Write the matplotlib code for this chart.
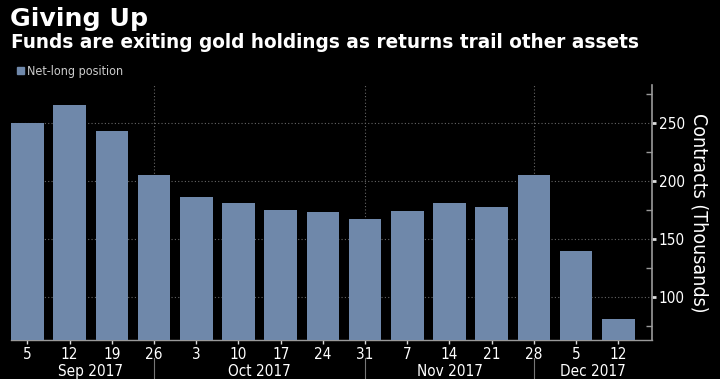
import matplotlib
matplotlib.use("Agg")
import matplotlib.pyplot as plt
from matplotlib.ticker import MultipleLocator

# data
day_labels = ["5", "12", "19", "26", "3", "10", "17", "24", "31",
              "7", "14", "21", "28", "5", "12"]
net_long = [250, 265.5, 243, 205, 186, 181, 175, 173.5, 167,
            174, 181, 178, 205, 140, 81]
month_labels = ["Sep 2017", "Oct 2017", "Nov 2017", "Dec 2017"]
month_centers = [1.5, 5.5, 10.0, 13.4]
month_breaks = [3, 8, 12]

BG = "black"
BAR = "#6f88aa"

plt.rcParams["font.family"] = ["DejaVu Sans"]
plt.rcParams["font.stretch"] = "condensed"

fig = plt.figure(figsize=(7.2, 3.79), dpi=100, facecolor=BG)
ax = fig.add_axes([0.0153, 0.1029, 0.905 - 0.0153, 0.7757 - 0.1029])
ax.set_facecolor(BG)

x = list(range(len(net_long)))
ax.bar(x, net_long, width=0.77, color=BAR, zorder=3)

ax.set_xlim(-0.39, 14.79)
ax.set_ylim(63, 283)

# dotted grid behind the bars
for v in (100, 150, 200, 250):
    ax.axhline(v, color="#666666", lw=0.8, ls=(0, (1, 2)), zorder=1)
for b in month_breaks:
    ax.axvline(b, color="#666666", lw=0.8, ls=(0, (1, 2)), zorder=1)

# spines
for s in ("top", "left"):
    ax.spines[s].set_visible(False)
ax.spines["right"].set_color("#9a9a9a")
ax.spines["bottom"].set_color("#9a9a9a")
ax.spines["right"].set_linewidth(1.2)
ax.spines["bottom"].set_linewidth(1.0)

# y axis on the right
ax.yaxis.tick_right()
ax.yaxis.set_major_locator(MultipleLocator(50))
ax.yaxis.set_minor_locator(MultipleLocator(25))
ax.tick_params(axis="y", which="major", direction="out", length=3, width=2,
               color="#dddddd", labelcolor="white", labelsize=11, pad=2)
ax.tick_params(axis="y", which="minor", direction="in", length=4, width=1,
               color="#9a9a9a")
ax.yaxis.set_label_position("right")
ax.set_ylabel("Contracts (Thousands)", color="white", fontsize=14,
              rotation=-90, labelpad=17)

# x axis: day ticks plus month row
ax.set_xticks(x)
ax.set_xticklabels(day_labels)
ax.tick_params(axis="x", direction="out", length=3, width=1, color="#dddddd",
               labelcolor="white", labelsize=11, pad=2)

for xc, lab in zip(month_centers, month_labels):
    ax.text(xc, -0.125, lab, transform=ax.get_xaxis_transform(), ha="center",
            va="center", color="white", fontsize=11)
for b in month_breaks:
    ax.plot([b, b], [-0.07, -0.153], transform=ax.get_xaxis_transform(),
            color="#777777", lw=0.8, clip_on=False)

# titles and legend
fig.text(10 / 720, 1 - 26 / 379, "Giving Up", color="white", fontsize=18.2,
         fontweight="bold", fontstretch="normal", ha="left", va="baseline")
fig.text(11 / 720, 1 - 48 / 379,
         "Funds are exiting gold holdings as returns trail other assets",
         color="white", fontsize=13.35, fontweight="bold", fontstretch="normal",
         ha="left", va="baseline")
fig.patches.append(plt.Rectangle((17 / 720, 1 - 74 / 379), 7 / 720, 7 / 379,
                                 transform=fig.transFigure, color=BAR))
fig.text(27 / 720, 1 - 71 / 379, "Net-long position", color="#cccccc",
         fontsize=9, ha="left", va="center")

fig.savefig("out.png", dpi=100, facecolor=BG)
